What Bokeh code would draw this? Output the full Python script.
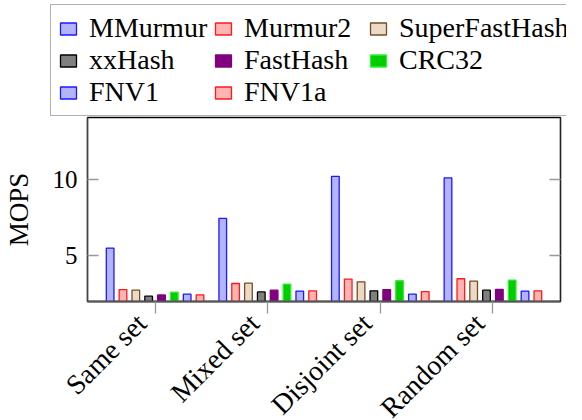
from bokeh.plotting import figure
from bokeh.models import ColumnDataSource, FactorRange, FixedTicker, LinearAxis, Range1d, Legend, LegendItem
from bokeh.transform import dodge
from bokeh.embed import file_html
from bokeh.resources import INLINE

categories = ["Same set", "Mixed set", "Disjoint set", "Random set"]
series = ["MMurmur", "Murmur2", "SuperFastHash", "xxHash", "FastHash", "CRC32", "FNV1", "FNV1a"]
mmurmur = [5.50, 7.45, 10.20, 10.09]
murmur2 = [2.78, 3.18, 3.47, 3.49]
superfasthash = [2.74, 3.20, 3.29, 3.34]
xxhash = [2.35, 2.63, 2.70, 2.74]
fasthash = [2.43, 2.74, 2.78, 2.80]
crc32 = [2.61, 3.14, 3.36, 3.40]
fnv1 = [2.48, 2.68, 2.48, 2.68]
fnv1a = [2.43, 2.70, 2.65, 2.70]
values = [mmurmur, murmur2, superfasthash, xxhash, fasthash, crc32, fnv1, fnv1a]
y_ticks = [5, 10]

fills = ["#b3b3ff", "#ffb3b3", "#ecd9c6", "#808080", "#800080", "#00cc00", "#b3b3ff", "#ffb3b3"]
lines = ["#1a1aff", "#ff1a1a", "#734d26", "#000000", "#800080", "#33ee33", "#1a1aff", "#ff1a1a"]

FONT = "Liberation Serif"

xi = list(range(len(categories)))
src = {"cat": categories, "xi": xi}
for name, vals in zip(series, values):
    src[name] = vals
source = ColumnDataSource(src)

# ---- main plot ----
p = figure(x_range=Range1d(-0.6, 3.6), y_range=Range1d(2.0, 14.05),
           width=566, height=296, output_backend="svg", toolbar_location=None,
           min_border_left=77, min_border_top=1, min_border_right=16, min_border_bottom=111)
p.frame_width = 473
p.frame_height = 184

step = 0.114
bar_w = 0.068
for i, name in enumerate(series):
    off = (i - 3.5) * step
    p.vbar(x=dodge("xi", off), top=name, bottom=0, width=bar_w,
           source=source, fill_color=fills[i], line_color=lines[i], line_width=1.3)

p.xgrid.grid_line_color = None
p.ygrid.grid_line_color = None
p.outline_line_color = "#000000"
p.outline_line_width = 1.3

yax = p.yaxis[0]
yax.ticker = FixedTicker(ticks=y_ticks)
yax.minor_tick_line_color = None
yax.major_tick_in = 11
yax.major_tick_out = 0
yax.major_tick_line_color = "#999999"
yax.major_tick_line_width = 1.3
yax.axis_line_color = "#444444"
yax.axis_line_width = 1.5
yax.major_label_text_font = FONT
yax.major_label_text_font_size = "25px"
yax.major_label_text_color = "#000000"
yax.major_label_standoff = 10
yax.axis_label = "MOPS"
yax.axis_label_text_font = FONT
yax.axis_label_text_font_size = "27px"
yax.axis_label_text_font_style = "normal"
yax.axis_label_text_color = "#000000"
yax.axis_label_standoff = 16

rax = LinearAxis(ticker=FixedTicker(ticks=y_ticks), major_label_overrides={5: "", 10: ""},
                 major_tick_in=11, major_tick_out=0, major_tick_line_color="#999999",
                 major_tick_line_width=1.3, minor_tick_line_color=None,
                 axis_line_color="#222222", axis_line_width=1.3, major_label_standoff=0)
p.add_layout(rax, "right")

# category labels sit slightly left of the category tick (east-anchored, rotated 45 deg)
label_pos = [round(x - 0.12, 2) for x in xi]
xax = p.xaxis[0]
xax.ticker = FixedTicker(ticks=label_pos, minor_ticks=xi)
xax.major_label_overrides = {pos: cat for pos, cat in zip(label_pos, categories)}
xax.major_tick_in = 0
xax.major_tick_out = 0
xax.major_tick_line_color = None
xax.minor_tick_in = 0
xax.minor_tick_out = 12
xax.minor_tick_line_color = "#999999"
xax.minor_tick_line_width = 1.3
xax.axis_line_color = "#555555"
xax.axis_line_width = 2
xax.major_label_orientation = 0.785398
xax.major_label_text_font = FONT
xax.major_label_text_font_size = "28px"
xax.major_label_text_color = "#000000"
xax.major_label_standoff = 5

# ---- legend strip ----
lg = figure(x_range=FactorRange(*categories), y_range=Range1d(1000, 1001),
            width=566, height=116, output_backend="svg", toolbar_location=None,
            x_axis_location=None, y_axis_location=None,
            min_border=0, outline_line_color=None)
lg.grid.visible = False
items = []
for i, name in enumerate(series):
    r = lg.vbar(x="cat", top=name, bottom=0, width=bar_w, source=source,
                fill_color=fills[i], line_color=lines[i], line_width=1.3)
    items.append(LegendItem(label=name, renderers=[r]))

legend = Legend(items=items, location=(50, 0), orientation="horizontal", ncols=3,
                label_text_font=FONT, label_text_font_size="28px", label_text_color="#000000",
                glyph_width=20, glyph_height=15, label_standoff=11, spacing=0,
                padding=7, margin=0, border_line_color="#666666", border_line_width=1.5,
                background_fill_alpha=1.0, label_width=124)
lg.add_layout(legend, "center")

open("out.html", "w").write(file_html([lg, p], INLINE))
